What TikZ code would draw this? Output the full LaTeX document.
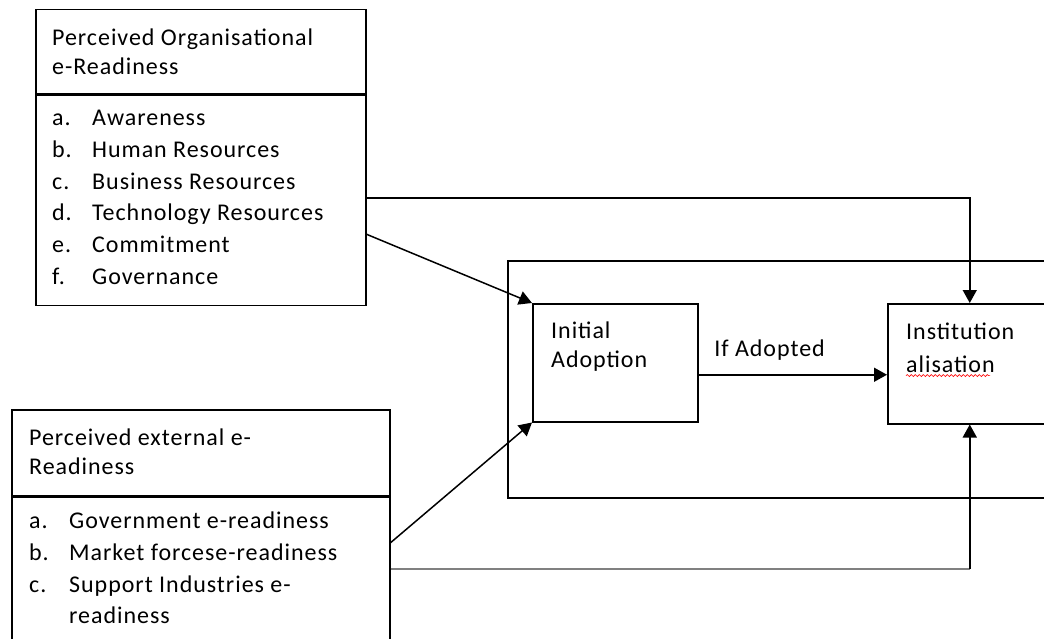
\documentclass[tikz,border=0pt]{standalone}
\usepackage{fontspec}
\setmainfont{Carlito}[LetterSpace=4]
\usepackage{tikz}
\usetikzlibrary{positioning,arrows.meta,decorations.pathmorphing}

\newcommand{\itm}[1]{\makebox[40pt][l]{#1}}

\begin{document}
\begin{tikzpicture}[
    x=1pt, y=-1pt,
    box/.style={rectangle, draw=black, line width=1.5pt, inner sep=0pt, anchor=north west},
    txt/.style={font=\fontsize{24}{29}\selectfont, align=left, inner sep=0pt, anchor=north west},
    listtxt/.style={txt, font=\fontsize{24}{31.7}\selectfont},
    arrow/.style={-{Triangle[length=13pt,width=14pt]}, line width=1.5pt},
    greyline/.style={draw=black!50, line width=2pt},
    squiggle/.style={draw=red, line width=0.6pt, decorate, decoration={snake, amplitude=1pt, segment length=4pt}}
]
    \useasboundingbox (0,0) rectangle (1044,639);

    % left boxes
    \node[box, minimum width=330pt, minimum height=84pt] (orghead) at (35,9) {};
    \node[box, minimum width=330pt, minimum height=210pt] (orgbody) at (orghead.south west) {};
    \node[box, minimum width=378pt, minimum height=86pt] (exthead) at (11,409) {};
    \node[box, minimum width=378pt, minimum height=165pt] (extbody) at (exthead.south west) {};

    % right part
    \node[box, minimum width=560pt, minimum height=237pt] (stage) at (507,260) {};
    \node[box, minimum width=165pt, minimum height=118pt] (init) at (532,303) {};
    \node[box, minimum width=164pt, minimum height=120pt] (inst) at (887,303) {};

    % texts
    \node[txt] (orgtitle) at ([shift={(17,18)}]orghead.north west)
        {\rule{0pt}{18pt}Perceived Organisational\\e-Readiness};
    \node[listtxt] (orglist) at ([shift={(17,13)}]orgbody.north west)
        {\rule{0pt}{18pt}\itm{a.}Awareness\\\itm{b.}Human Resources\\\itm{c.}Business Resources\\
         \itm{d.}Technology Resources\\\itm{e.}Commitment\\\itm{f.}Governance};
    \node[txt] (exttitle) at ([shift={(18,18)}]exthead.north west)
        {\rule{0pt}{18pt}Perceived external e-\\Readiness};
    \node[listtxt] (extlist) at ([shift={(18,14)}]extbody.north west)
        {\rule{0pt}{18pt}\itm{a.}Government e-readiness\\\itm{b.}Market forcese-readiness\\
         \itm{c.}Support Industries e-\\\itm{}readiness};
    \node[txt] (inittext) at ([shift={(19,17)}]init.north west)
        {\rule{0pt}{18pt}Initial\\Adoption};
    \node[txt, font=\fontsize{24}{33}\selectfont] (insttext) at ([shift={(19,18)}]inst.north west)
        {\rule{0pt}{18pt}Institution\\alisation};
    \draw[squiggle] ([yshift=-3pt]insttext.south west) -- ++(84,0);

    % connectors
    \draw[arrow] ([yshift=-12pt]init.east) -- node[txt, anchor=base west, pos=0.08, yshift=18pt] (adopted) {If Adopted}
        ([yshift=-12pt]init.east -| inst.west);
    \draw[arrow] ([yshift=2pt]orgbody.east) -| (inst.north);
    \draw[arrow] ([yshift=-34pt]orgbody.east) -- (init.north west);
    \draw[arrow] ([yshift=37pt]extbody.east) -- (init.south west);
    \coordinate (bend) at ([yshift=11pt]extbody.east -| inst.south);
    \draw[greyline] ([yshift=11pt]extbody.east) -- (bend);
    \draw[arrow] (bend) -- (inst.south);
\end{tikzpicture}
\end{document}
